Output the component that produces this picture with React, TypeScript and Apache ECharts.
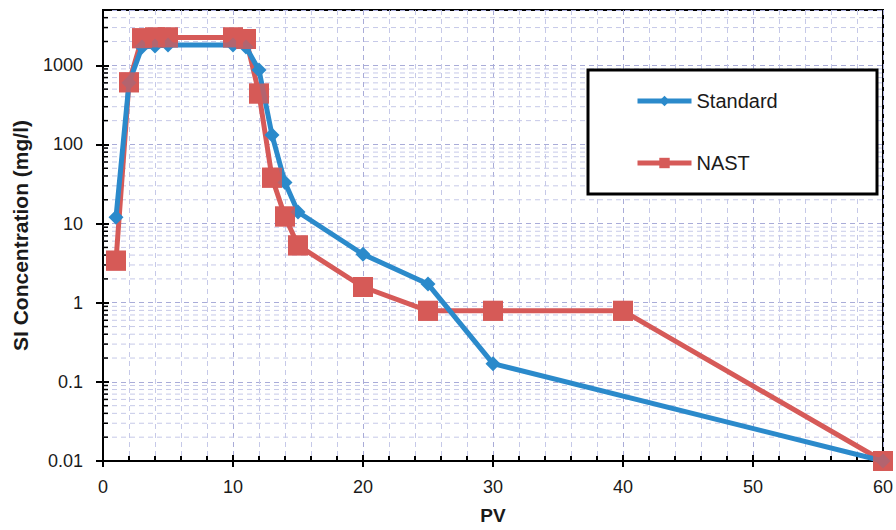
import React, { useEffect, useRef } from 'react';
import * as echarts from 'echarts';

const pvStandard = [1, 2, 3, 4, 5, 10, 11, 12, 13, 14, 15, 20, 25, 30, 60];
const siStandard = [12, 600, 1700, 1750, 1800, 1800, 1700, 870, 132, 33, 14, 4.1, 1.72, 0.17, 0.01];
const pvNast = [1, 2, 3, 4, 5, 10, 11, 12, 13, 14, 15, 20, 25, 30, 40, 60];
const siNast = [3.4, 610, 2200, 2250, 2250, 2250, 2150, 440, 38, 12.3, 5.3, 1.58, 0.79, 0.79, 0.79, 0.01];
const yDecades = [0.01, 0.1, 1, 10, 100, 1000];
const minorMultipliers = [2, 3, 4, 5, 6, 7, 8, 9];
const xMin = 0;
const xMax = 60;
const yMin = 0.01;
const yMax = 5000;

const BLUE = '#2b8acb';
const RED = '#d65a58';
const FONT = '"Liberation Sans", Arial, sans-serif';

export default function App() {
  const ref = useRef<HTMLDivElement>(null);
  useEffect(() => {
    document.body.style.margin = '0';
    const chart = echarts.init(ref.current!, null, { renderer: 'svg' });
    const minorVals: number[][] = [];
    yDecades.forEach((d) => {
      minorMultipliers.forEach((m) => {
        const v = d * m;
        if (v < yMax) minorVals.push([xMin, v]);
      });
    });
    const stdData = pvStandard.map((x, i) => [x, siStandard[i]]);
    const nastData = pvNast.map((x, i) => [x, siNast[i]]);
    const fmtY = (v: number) => {
      const l = Math.log10(v);
      if (Math.abs(l - Math.round(l)) > 1e-6) return '';
      return String(+v.toPrecision(3));
    };
    chart.setOption({
      animation: false,
      backgroundColor: '#ffffff',
      grid: {
        left: 103, right: 8, top: 10, bottom: 67,
        show: true, borderColor: '#000', borderWidth: 2, backgroundColor: '#fff',
      },
      legend: {
        data: [
          { name: 'Standard', itemStyle: { color: BLUE }, lineStyle: { color: BLUE, width: 5 } },
          { name: 'NAST', itemStyle: { color: RED }, lineStyle: { color: RED, width: 5 } },
        ],
        orient: 'vertical',
        left: 630,
        top: 86,
        itemWidth: 54,
        itemHeight: 13,
        itemGap: 42,
        z: 20,
        lineStyle: { width: 5 },
        textStyle: { fontFamily: FONT, fontSize: 20, color: '#1a1a1a' },
      },
      graphic: [
        {
          type: 'rect',
          shape: { x: 588, y: 70, width: 289, height: 124 },
          style: { fill: '#fff', stroke: '#000', lineWidth: 3 },
          z: 2,
        },
      ],
      xAxis: [
        {
          type: 'value', min: xMin, max: xMax, interval: 10,
          name: 'PV', nameLocation: 'middle', nameGap: 45,
          nameTextStyle: { fontFamily: FONT, fontSize: 19, fontWeight: 'bold', color: '#1a1a1a' },
          axisLine: { show: true, lineStyle: { color: '#000', width: 2 } },
          axisTick: { show: true, inside: false, length: 6, lineStyle: { color: '#000', width: 2 } },
          axisLabel: { fontFamily: FONT, fontSize: 18, color: '#1a1a1a', margin: 17 },
          splitLine: { show: true, lineStyle: { color: '#a9acd8', type: [5, 4], width: 1 } },
          minorSplitLine: { show: true, lineStyle: { color: '#c6c9e8', type: [5, 4], width: 1 } },
          minorTick: { show: false, splitNumber: 5 },
        },
        {
          type: 'value', min: xMin, max: xMax, interval: 10, position: 'bottom',
          axisLine: { show: false },
          axisTick: { show: true, inside: true, length: 6, lineStyle: { color: '#000', width: 2 } },
          minorTick: { show: true, inside: true, splitNumber: 5, length: 5, lineStyle: { color: '#000', width: 2 } },
          axisLabel: { show: false },
          splitLine: { show: false },
        },
      ],
      yAxis: [
        {
          type: 'log', logBase: 10, min: yMin, max: yMax,
          name: 'SI Concentration (mg/l)', nameLocation: 'middle', nameGap: 72,
          nameTextStyle: { fontFamily: FONT, fontSize: 21, fontWeight: 'bold', color: '#1a1a1a' },
          axisLine: { show: true, lineStyle: { color: '#000', width: 2 } },
          axisTick: { show: true, inside: false, length: 7, lineStyle: { color: '#000', width: 2 } },
          axisLabel: { fontFamily: FONT, fontSize: 18, color: '#1a1a1a', margin: 20, formatter: fmtY, showMaxLabel: false },
          splitLine: { show: true, lineStyle: { color: '#a9acd8', type: [5, 4], width: 1 } },
        },
        {
          type: 'log', logBase: 10, min: yMin, max: yMax, position: 'left',
          axisLine: { show: false },
          axisTick: { show: true, inside: true, length: 6, lineStyle: { color: '#000', width: 2 } },
          axisLabel: { show: false },
          splitLine: { show: false },
        },
      ],
      series: [
        {
          name: 'minor',
          type: 'custom',
          xAxisIndex: 0, yAxisIndex: 0,
          silent: true,
          z: 1,
          data: minorVals,
          renderItem: (params: any, api: any) => {
            const v = api.value(1);
            const p0 = api.coord([xMin, v]);
            const p1 = api.coord([xMax, v]);
            return {
              type: 'group',
              children: [
                {
                  type: 'line',
                  shape: { x1: p0[0], y1: p0[1], x2: p1[0], y2: p1[1] },
                  style: { stroke: '#c6c9e8', lineWidth: 1, lineDash: [5, 4] },
                },
                {
                  type: 'line',
                  shape: { x1: p0[0], y1: p0[1], x2: p0[0] + 5, y2: p0[1] },
                  style: { stroke: '#000', lineWidth: 1.5 },
                },
              ],
            };
          },
        },
        {
          name: 'NAST',
          type: 'line',
          xAxisIndex: 0, yAxisIndex: 0,
          data: nastData,
          z: 3,
          symbol: 'rect', symbolSize: 20,
          lineStyle: { color: RED, width: 5 },
          itemStyle: { color: RED },
        },
        {
          name: 'Standard',
          type: 'line',
          xAxisIndex: 0, yAxisIndex: 0,
          data: stdData,
          z: 4,
          symbol: 'diamond', symbolSize: 15,
          lineStyle: { color: BLUE, width: 5 },
          itemStyle: { color: BLUE },
        },
        {
          name: 'NAST markers',
          type: 'scatter',
          xAxisIndex: 0, yAxisIndex: 0,
          data: nastData,
          z: 5,
          symbol: 'rect', symbolSize: 20,
          itemStyle: { color: RED },
        },
      ],
    });
    return () => chart.dispose();
  }, []);
  return <div ref={ref} style={{ width: 896, height: 530 }} />;
}
